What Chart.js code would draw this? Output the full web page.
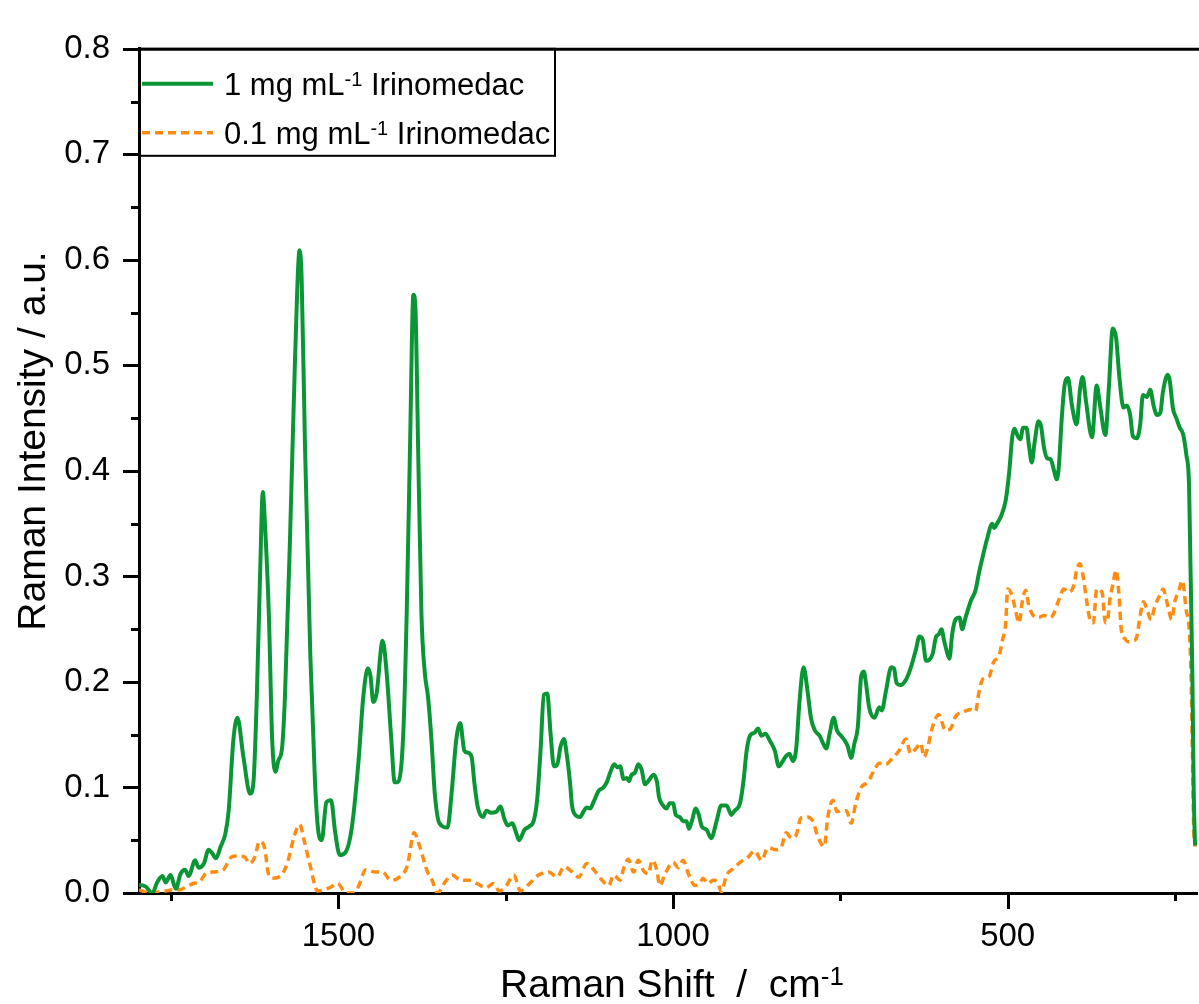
<!DOCTYPE html>
<html>
<head>
<meta charset="utf-8">
<title>Raman spectra - Irinomedac</title>
<script src="https://cdn.jsdelivr.net/npm/chart.js@4.4.1/dist/chart.umd.min.js"></script>
<style>
  html, body { margin: 0; padding: 0; background: #fff; }
  #wrap { width: 1199px; height: 1004px; position: relative; overflow: hidden; }
</style>
</head>
<body>
<div id="wrap"><canvas id="raman" width="1199" height="1004"></canvas></div>
<script>
const FONT = '"Liberation Sans", Arial, Helvetica, sans-serif';

// axis ticks (major ones get a label, the others are minor marks)
const xTickValues = [1750, 1500, 1250, 1000, 750, 500, 250];
const yTickValues = [0, 0.05, 0.1, 0.15, 0.2, 0.25, 0.3, 0.35, 0.4, 0.45, 0.5, 0.55, 0.6, 0.65, 0.7, 0.75, 0.8];

// 1 mg/mL spectrum
const shiftHigh = [1798, 1788, 1778, 1771, 1763, 1758, 1751, 1743, 1736, 1729, 1724, 1714, 1709, 1701, 1694, 1689, 1683, 1676, 1669, 1664,
  1657, 1651, 1642, 1632, 1627, 1622, 1617, 1613, 1610, 1604, 1599, 1594, 1590, 1584, 1580, 1572, 1565, 1558, 1555, 1550,
  1542, 1535, 1530, 1525, 1518, 1511, 1505, 1498, 1490, 1480, 1470, 1463, 1456, 1452, 1448, 1443, 1434, 1428, 1421, 1416,
  1411, 1403, 1398, 1393, 1388, 1385, 1381, 1376, 1371, 1366, 1361, 1356, 1349, 1337, 1331, 1324, 1318, 1312, 1307, 1301,
  1297, 1292, 1284, 1279, 1272, 1264, 1258, 1252, 1247, 1240, 1235, 1230, 1222, 1215, 1208, 1203, 1198, 1193, 1188, 1183,
  1178, 1173, 1168, 1163, 1159, 1154, 1151, 1146, 1139, 1134, 1129, 1124, 1119, 1111, 1104, 1099, 1094, 1088, 1083, 1079,
  1074, 1069, 1066, 1062, 1057, 1052, 1047, 1042, 1037, 1029, 1024, 1021, 1015, 1010, 1005, 1000, 996, 990, 985, 980,
  976, 972, 966, 962, 957, 950, 943, 935, 928, 920, 913, 908, 900, 895, 890, 885, 878, 873, 868, 862,
  856, 848, 842, 836, 831, 826, 821, 816, 811, 805, 799, 794, 788, 781, 776, 771, 766, 760, 755, 749,
  744, 739, 734, 729, 724, 719, 715, 712, 707, 699, 692, 688, 682, 674, 670, 666, 660, 652, 645, 637,
  632, 627, 622, 617, 612, 607, 603, 599, 595, 591, 587, 583, 578, 572, 568, 563, 555, 548, 543, 538,
  531, 523, 520, 516, 510, 503, 498, 493, 490, 485, 481, 477, 472, 468, 464, 460, 454, 450, 446, 441,
  436, 431, 427, 424, 419, 415, 410, 404, 397, 392, 388, 383, 374, 367, 362, 354, 349, 343, 338, 333,
  327, 322, 317, 313, 307, 302, 298, 292, 287, 282, 277, 272, 268, 261, 258, 253, 248, 243, 238, 233,
  229, 227, 224, 222, 220];
const intensityHigh = [0.008, 0.006, 0.000, 0.010, 0.016, 0.010, 0.017, 0.004, 0.018, 0.022, 0.016, 0.031, 0.024, 0.028, 0.041, 0.038, 0.033, 0.044, 0.056, 0.078,
  0.145, 0.166, 0.129, 0.094, 0.105, 0.185, 0.304, 0.380, 0.352, 0.265, 0.145, 0.115, 0.125, 0.139, 0.185, 0.344, 0.503, 0.609, 0.583, 0.424,
  0.225, 0.105, 0.058, 0.050, 0.086, 0.088, 0.058, 0.036, 0.038, 0.062, 0.125, 0.185, 0.213, 0.205, 0.181, 0.189, 0.239, 0.209, 0.145, 0.105,
  0.105, 0.153, 0.265, 0.424, 0.567, 0.555, 0.424, 0.265, 0.209, 0.185, 0.145, 0.094, 0.066, 0.062, 0.094, 0.145, 0.161, 0.135, 0.133, 0.129,
  0.105, 0.082, 0.072, 0.078, 0.076, 0.077, 0.082, 0.070, 0.064, 0.066, 0.058, 0.050, 0.060, 0.063, 0.069, 0.089, 0.135, 0.188, 0.189, 0.151,
  0.120, 0.122, 0.139, 0.146, 0.132, 0.105, 0.083, 0.074, 0.072, 0.077, 0.081, 0.080, 0.086, 0.097, 0.100, 0.105, 0.114, 0.122, 0.119, 0.120,
  0.108, 0.109, 0.106, 0.112, 0.114, 0.122, 0.117, 0.103, 0.106, 0.112, 0.105, 0.091, 0.083, 0.080, 0.085, 0.085, 0.074, 0.072, 0.068, 0.068,
  0.061, 0.068, 0.080, 0.075, 0.063, 0.060, 0.052, 0.068, 0.083, 0.083, 0.074, 0.078, 0.085, 0.105, 0.135, 0.149, 0.152, 0.156, 0.149, 0.151,
  0.145, 0.135, 0.120, 0.125, 0.130, 0.132, 0.125, 0.137, 0.182, 0.214, 0.191, 0.166, 0.154, 0.149, 0.142, 0.137, 0.151, 0.166, 0.154, 0.149,
  0.145, 0.139, 0.128, 0.142, 0.157, 0.205, 0.210, 0.200, 0.176, 0.166, 0.176, 0.173, 0.191, 0.214, 0.213, 0.199, 0.197, 0.202, 0.213, 0.231,
  0.243, 0.240, 0.220, 0.221, 0.227, 0.243, 0.245, 0.250, 0.239, 0.229, 0.222, 0.245, 0.259, 0.261, 0.250, 0.261, 0.277, 0.287, 0.303, 0.317,
  0.335, 0.350, 0.346, 0.350, 0.357, 0.372, 0.397, 0.433, 0.440, 0.433, 0.430, 0.441, 0.441, 0.423, 0.408, 0.426, 0.447, 0.442, 0.423, 0.412,
  0.411, 0.401, 0.392, 0.401, 0.452, 0.481, 0.488, 0.462, 0.444, 0.477, 0.489, 0.466, 0.432, 0.481, 0.462, 0.434, 0.477, 0.535, 0.526, 0.488,
  0.460, 0.462, 0.453, 0.433, 0.431, 0.444, 0.472, 0.470, 0.477, 0.462, 0.453, 0.455, 0.475, 0.491, 0.486, 0.459, 0.450, 0.441, 0.435, 0.415,
  0.386, 0.314, 0.205, 0.096, 0.045];

// 0.1 mg/mL spectrum
const shiftLow = [1798, 1781, 1769, 1757, 1747, 1737, 1727, 1717, 1707, 1697, 1685, 1672, 1660, 1652, 1640, 1633, 1625, 1618, 1610, 1605,
  1598, 1585, 1576, 1566, 1558, 1551, 1543, 1531, 1513, 1501, 1489, 1479, 1471, 1459, 1446, 1434, 1422, 1409, 1397, 1387,
  1379, 1367, 1360, 1352, 1340, 1330, 1317, 1305, 1293, 1280, 1268, 1260, 1250, 1238, 1228, 1216, 1201, 1186, 1173, 1163,
  1151, 1141, 1129, 1116, 1106, 1096, 1089, 1079, 1074, 1067, 1059, 1052, 1044, 1037, 1031, 1024, 1020, 1012, 1000, 992,
  985, 977, 967, 960, 955, 948, 940, 933, 928, 920, 910, 900, 888, 878, 868, 858, 846, 838, 831, 823,
  816, 809, 800, 791, 784, 774, 769, 761, 755, 749, 741, 734, 727, 719, 709, 699, 692, 682, 672, 662,
  652, 645, 637, 630, 625, 620, 612, 603, 593, 585, 578, 565, 555, 548, 543, 537, 528, 521, 513, 508,
  503, 500, 493, 488, 483, 478, 473, 469, 462, 454, 446, 436, 431, 424, 416, 409, 401, 397, 392, 387,
  382, 377, 372, 367, 359, 354, 351, 347, 343, 338, 334, 330, 325, 320, 312, 307, 302, 297, 291, 286,
  280, 272, 268, 260, 255, 250, 245, 239, 233, 229, 226, 224, 222, 220];
const intensityLow = [0.003, 0.000, 0.001, 0.002, 0.003, 0.003, 0.006, 0.009, 0.011, 0.019, 0.020, 0.022, 0.034, 0.035, 0.034, 0.028, 0.034, 0.049, 0.042, 0.019,
  0.014, 0.017, 0.029, 0.054, 0.065, 0.049, 0.028, 0.002, 0.005, 0.009, 0.000, 0.000, 0.005, 0.022, 0.020, 0.020, 0.012, 0.015, 0.026, 0.057,
  0.045, 0.020, 0.012, 0.000, 0.011, 0.017, 0.012, 0.012, 0.009, 0.005, 0.009, 0.002, 0.006, 0.017, 0.002, 0.008, 0.017, 0.020, 0.015, 0.025,
  0.020, 0.015, 0.028, 0.020, 0.012, 0.007, 0.017, 0.012, 0.023, 0.032, 0.020, 0.031, 0.021, 0.018, 0.031, 0.021, 0.007, 0.018, 0.029, 0.024,
  0.031, 0.018, 0.007, 0.010, 0.014, 0.009, 0.012, 0.010, 0.001, 0.017, 0.023, 0.029, 0.034, 0.040, 0.031, 0.043, 0.041, 0.044, 0.057, 0.052,
  0.055, 0.071, 0.072, 0.068, 0.054, 0.044, 0.071, 0.088, 0.077, 0.078, 0.078, 0.066, 0.085, 0.100, 0.105, 0.117, 0.123, 0.122, 0.128, 0.135,
  0.146, 0.132, 0.137, 0.142, 0.129, 0.137, 0.158, 0.169, 0.154, 0.156, 0.167, 0.172, 0.174, 0.172, 0.190, 0.203, 0.205, 0.219, 0.225, 0.239,
  0.256, 0.288, 0.281, 0.267, 0.256, 0.277, 0.287, 0.274, 0.263, 0.261, 0.263, 0.261, 0.265, 0.277, 0.288, 0.285, 0.292, 0.306, 0.312, 0.299,
  0.277, 0.259, 0.256, 0.288, 0.285, 0.256, 0.258, 0.279, 0.292, 0.306, 0.285, 0.248, 0.241, 0.238, 0.239, 0.243, 0.263, 0.276, 0.267, 0.259,
  0.272, 0.283, 0.288, 0.270, 0.259, 0.277, 0.285, 0.296, 0.267, 0.252, 0.205, 0.132, 0.060, 0.044];

const legendPrefix = ['1 mg mL', '0.1 mg mL'];
const legendSup = '-1';
const legendSuffix = ' Irinomedac';

const GREEN = '#0b9636';
const ORANGE = '#ff8c12';

function toPoints(xs, ys) {
  return xs.map((x, i) => ({ x: x, y: ys[i] }));
}

// text with a small raised part, e.g. "cm" + "-1"
function drawSupText(ctx, parts, x, y, size, align) {
  const supSize = Math.round(size * 0.66);
  const rise = size * 0.3;
  let total = 0;
  const widths = parts.map(p => {
    ctx.font = `${p.sup ? supSize : size}px ${FONT}`;
    const w = ctx.measureText(p.text).width;
    total += w;
    return w;
  });
  let cx = align === 'center' ? x - total / 2 : x;
  parts.forEach((p, i) => {
    ctx.font = `${p.sup ? supSize : size}px ${FONT}`;
    ctx.fillText(p.text, cx, p.sup ? y - rise : y);
    cx += widths[i];
  });
}

const framePlugin = {
  id: 'frame',
  afterDraw(chart) {
    const { ctx, chartArea: a, scales: { x, y } } = chart;
    ctx.save();
    ctx.strokeStyle = '#000';
    ctx.fillStyle = '#000';
    ctx.lineWidth = 3;
    ctx.lineCap = 'butt';

    // top frame line (right side of the frame lies outside the picture)
    ctx.beginPath();
    ctx.moveTo(a.left, a.top + 0.5);
    ctx.lineTo(chart.width, a.top + 0.5);
    ctx.stroke();

    // tick marks, outward
    x.ticks.forEach(t => {
      const px = Math.round(x.getPixelForValue(t.value)) + 0.5;
      const len = t.value % 500 === 0 ? 16 : 8;
      ctx.beginPath();
      ctx.moveTo(px, a.bottom);
      ctx.lineTo(px, a.bottom + len);
      ctx.stroke();
    });
    y.ticks.forEach(t => {
      const py = Math.round(y.getPixelForValue(t.value)) + 0.5;
      const major = Math.round(t.value * 100) % 10 === 0;
      ctx.beginPath();
      ctx.moveTo(a.left - (major ? 16 : 8), py);
      ctx.lineTo(a.left, py);
      ctx.stroke();
    });

    // legend box
    ctx.lineWidth = 2;
    ctx.strokeRect(a.left, a.top, 416, 107);
    chart.data.datasets.forEach((ds, i) => {
      const rowY = a.top + 35 + i * 49;
      ctx.save();
      ctx.strokeStyle = ds.borderColor;
      ctx.lineWidth = ds.borderWidth;
      ctx.setLineDash(ds.borderDash || []);
      ctx.beginPath();
      ctx.moveTo(a.left + 3, rowY);
      ctx.lineTo(a.left + 74, rowY);
      ctx.stroke();
      ctx.restore();
      ctx.textBaseline = 'alphabetic';
      ctx.textAlign = 'left';
      drawSupText(ctx, [
        { text: legendPrefix[i] },
        { text: legendSup, sup: true },
        { text: legendSuffix }
      ], a.left + 85, rowY + 11, 31, 'left');
    });

    // axis titles
    ctx.textBaseline = 'alphabetic';
    ctx.textAlign = 'left';
    drawSupText(ctx, [
      { text: 'Raman Shift  /  cm' },
      { text: '-1', sup: true }
    ], 672, 997, 39, 'center');

    ctx.save();
    ctx.translate(45, 441);
    ctx.rotate(-Math.PI / 2);
    ctx.font = `39px ${FONT}`;
    ctx.textAlign = 'center';
    ctx.fillText('Raman Intensity / a.u.', 0, 0);
    ctx.restore();

    ctx.restore();
  }
};

const chart = new Chart(document.getElementById('raman'), {
  type: 'line',
  data: {
    datasets: [
      {
        label: '1 mg mL-1 Irinomedac',
        data: toPoints(shiftHigh, intensityHigh),
        borderColor: GREEN,
        borderWidth: 4,
        pointRadius: 0,
        cubicInterpolationMode: 'monotone',
        fill: false
      },
      {
        label: '0.1 mg mL-1 Irinomedac',
        data: toPoints(shiftLow, intensityLow),
        borderColor: ORANGE,
        borderWidth: 3.5,
        borderDash: [8, 5],
        pointRadius: 0,
        cubicInterpolationMode: 'monotone',
        fill: false
      }
    ]
  },
  options: {
    responsive: false,
    animation: false,
    devicePixelRatio: 1,
    layout: { padding: { top: 29, left: 0, right: 0, bottom: 0 } },
    plugins: {
      legend: { display: false },
      tooltip: { enabled: false }
    },
    scales: {
      x: {
        type: 'linear',
        reverse: true,
        min: 217,
        max: 1798,
        afterFit: s => { s.height = 111; },
        afterBuildTicks: s => { s.ticks = xTickValues.map(v => ({ value: v })); },
        grid: { display: false, drawTicks: false },
        border: { display: true, color: '#000', width: 3 },
        ticks: {
          autoSkip: false,
          maxRotation: 0,
          padding: 24,
          color: '#000',
          font: { family: FONT, size: 33 },
          callback: v => (v % 500 === 0 ? String(v) : '')
        }
      },
      y: {
        min: 0,
        max: 0.8,
        afterFit: s => { s.width = 139; },
        afterBuildTicks: s => { s.ticks = yTickValues.map(v => ({ value: v })); },
        grid: { display: false, drawTicks: false },
        border: { display: true, color: '#000', width: 3 },
        ticks: {
          autoSkip: false,
          padding: 29,
          color: '#000',
          font: { family: FONT, size: 33 },
          callback: v => (Math.round(v * 100) % 10 === 0 ? v.toFixed(1) : '')
        }
      }
    }
  },
  plugins: [framePlugin]
});
</script>
</body>
</html>
